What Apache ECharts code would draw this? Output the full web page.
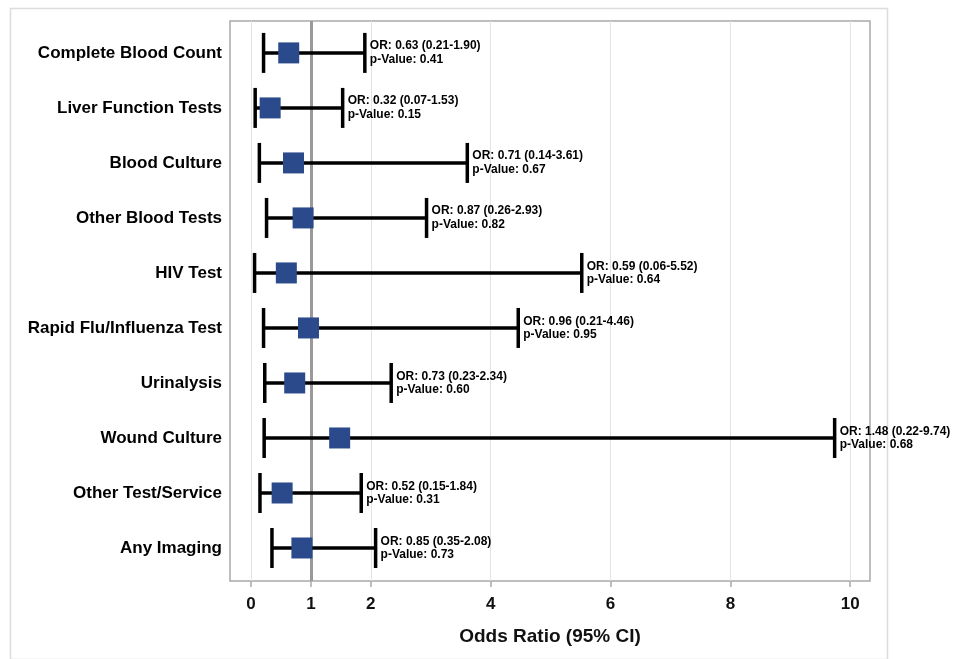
<!DOCTYPE html>
<html>
<head>
<meta charset="utf-8">
<script src="https://cdn.jsdelivr.net/npm/echarts@6/dist/echarts.min.js"></script>
<style>
  html, body { margin: 0; padding: 0; background: #fff; }
  #main { width: 955px; height: 659px; }
</style>
</head>
<body>
<div id="main"></div>
<script>
// forest plot of odds ratios by test type
var tests = ['Complete Blood Count', 'Liver Function Tests', 'Blood Culture', 'Other Blood Tests',
  'HIV Test', 'Rapid Flu/Influenza Test', 'Urinalysis', 'Wound Culture', 'Other Test/Service', 'Any Imaging'];
var oddsRatio = [0.63, 0.32, 0.71, 0.87, 0.59, 0.96, 0.73, 1.48, 0.52, 0.85];
var ciLow = [0.21, 0.07, 0.14, 0.26, 0.06, 0.21, 0.23, 0.22, 0.15, 0.35];
var ciHigh = [1.90, 1.53, 3.61, 2.93, 5.52, 4.46, 2.34, 9.74, 1.84, 2.08];
var pValues = [0.41, 0.15, 0.67, 0.82, 0.64, 0.95, 0.60, 0.68, 0.31, 0.73];
var xTicks = [0, 1, 2, 4, 6, 8, 10];
var xGridLines = [0, 2, 4, 6, 8, 10];
var refValue = 1;

var FONT = '"Liberation Sans", Arial, Helvetica, sans-serif';

var rows = tests.map(function (t, i) { return i + 1; });
var ciData = rows.map(function (r, i) {
  return [ciLow[i], r, ciHigh[i], oddsRatio[i], pValues[i]];
});
var pointData = rows.map(function (r, i) { return [oddsRatio[i], r]; });

function renderCI(params, api) {
  var row = api.value(1);
  var lo = api.coord([api.value(0), row]);
  var hi = api.coord([api.value(2), row]);
  var half = 20;
  var lineStyle = { stroke: '#000', lineWidth: 3.5 };
  return {
    type: 'group',
    children: [
      { type: 'line', shape: { x1: lo[0], y1: lo[1], x2: hi[0], y2: hi[1] }, style: lineStyle },
      { type: 'line', shape: { x1: lo[0], y1: lo[1] - half, x2: lo[0], y2: lo[1] + half }, style: lineStyle },
      { type: 'line', shape: { x1: hi[0], y1: hi[1] - half, x2: hi[0], y2: hi[1] + half }, style: lineStyle },
      {
        type: 'text',
        x: hi[0] + 5,
        y: hi[1],
        style: {
          text: 'OR: ' + api.value(3).toFixed(2) + ' (' + api.value(0).toFixed(2) + '-' + api.value(2).toFixed(2) + ')\n' +
            'p-Value: ' + api.value(4).toFixed(2),
          font: 'bold 12px ' + FONT,
          fill: '#000',
          align: 'left',
          verticalAlign: 'middle',
          lineHeight: 13.5
        }
      }
    ]
  };
}

var chart = echarts.init(document.getElementById('main'), null, { renderer: 'canvas' });

var option = {
  backgroundColor: '#fff',
  animation: false,
  graphic: [{
    type: 'rect',
    left: 8, top: 6,
    shape: { width: 877, height: 651 },
    style: { fill: 'none', stroke: '#dcdcdc', lineWidth: 1.5 },
    silent: true
  }],
  grid: {
    left: 230,
    right: 85,
    top: 21,
    bottom: 78,
    show: true,
    borderColor: '#a9a9a9',
    borderWidth: 1.5,
    backgroundColor: 'transparent'
  },
  xAxis: {
    type: 'value',
    min: -0.35,
    max: 10.33,
    name: 'Odds Ratio (95% CI)',
    nameLocation: 'middle',
    nameGap: 46,
    nameTextStyle: { fontFamily: FONT, fontWeight: 'bold', fontSize: 19, color: '#111' },
    axisLine: { show: false },
    axisTick: {
      show: true,
      length: 6,
      customValues: xTicks,
      lineStyle: { color: '#a9a9a9', width: 1.5 }
    },
    axisLabel: {
      customValues: xTicks,
      margin: 15,
      fontFamily: FONT,
      fontWeight: 'bold',
      fontSize: 17,
      color: '#111'
    },
    splitLine: { show: false }
  },
  yAxis: {
    type: 'value',
    inverse: true,
    min: 0.42,
    max: 10.6,
    axisLine: { show: false },
    axisTick: { show: false },
    splitLine: { show: false },
    axisLabel: {
      customValues: rows,
      margin: 8,
      fontFamily: FONT,
      fontWeight: 'bold',
      fontSize: 17,
      color: '#000',
      formatter: function (v) { return tests[Math.round(v) - 1] || ''; }
    }
  },
  series: [
    {
      name: 'grid',
      type: 'line',
      data: [],
      z: 1,
      markLine: {
        z: 1,
        silent: true,
        symbol: 'none',
        label: { show: false },
        lineStyle: { color: '#e3e3e3', width: 1, type: 'solid' },
        data: xGridLines.map(function (v) { return { xAxis: v }; })
      }
    },
    {
      name: 'ref',
      type: 'line',
      data: [],
      z: 2,
      markLine: {
        z: 2,
        silent: true,
        symbol: 'none',
        label: { show: false },
        lineStyle: { color: '#999', width: 3, type: 'solid' },
        data: [{ xAxis: refValue }]
      }
    },
    {
      name: 'CI',
      type: 'custom',
      z: 3,
      encode: { x: [0, 2], y: 1 },
      data: ciData,
      renderItem: renderCI
    },
    {
      name: 'OR',
      type: 'scatter',
      z: 4,
      symbol: 'rect',
      symbolSize: 21,
      itemStyle: { color: '#2b4a8b', opacity: 1 },
      data: pointData
    }
  ]
};

chart.setOption(option);
</script>
</body>
</html>
